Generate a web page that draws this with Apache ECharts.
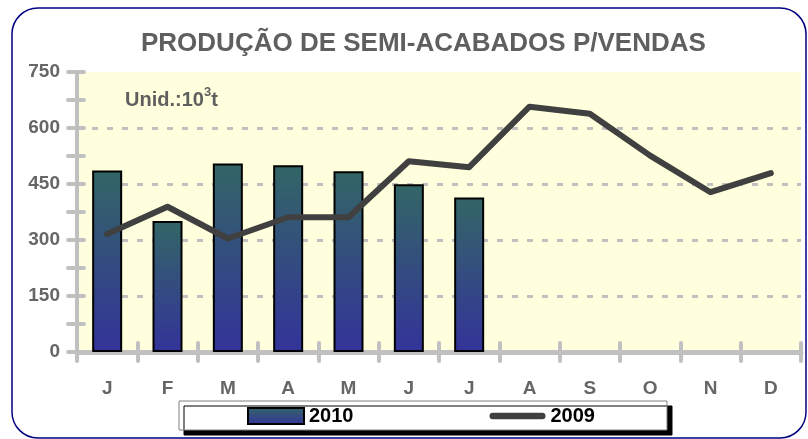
<!DOCTYPE html>
<html>
<head>
<meta charset="utf-8">
<script src="https://cdn.jsdelivr.net/npm/echarts@6/dist/echarts.min.js"></script>
<style>html,body{margin:0;padding:0;background:#fff}#c{width:808px;height:439px}</style>
</head>
<body>
<div id="c"></div>
<script>
const months = ['J','F','M','A','M','J','J','A','S','O','N','D'];
const values2010 = [486, 351, 505, 500, 484, 449, 414];
const values2009 = [316, 389, 304, 361, 361, 511, 495, 657, 638, 526, 428, 479];
const titleText = 'PRODUÇÃO DE SEMI-ACABADOS P/VENDAS';
const seriesNames = ['2010', '2009'];

const FONT = "'Liberation Sans', Arial, sans-serif";
const AX = '#c0c0c0';
const chart = echarts.init(document.getElementById('c'), null, {renderer: 'canvas'});

const tickStyle = {color: AX, width: 4, cap: 'round'};
const lineIcon = 'path://M3.5,0 H55.5 A3.5,3.5 0 0 1 55.5,7 H3.5 A3.5,3.5 0 0 1 3.5,0 Z';

chart.setOption({
  animation: false,
  title: [{
    text: titleText,
    left: 141, top: 31, padding: 0,
    textStyle: {fontFamily: FONT, fontSize: 26, fontWeight: 'bold', color: '#5f5f5f'}
  }, {
    text: '{a|Unid.:10}{s|3}{a|t}',
    left: 125, top: 86, padding: 0,
    textStyle: {
      rich: {
        a: {fontFamily: FONT, fontSize: 20, fontWeight: 'bold', color: '#5f5f5f', lineHeight: 24, verticalAlign: 'bottom'},
        s: {fontFamily: FONT, fontSize: 13, fontWeight: 'bold', color: '#5f5f5f', lineHeight: 14, verticalAlign: 'top'}
      }
    }
  }],
  graphic: [{
    type: 'rect', z: -10, silent: true,
    shape: {x: 12, y: 8, width: 794, height: 430, r: 26},
    style: {fill: 'none', stroke: '#000080', lineWidth: 1.5}
  }],
  legend: {
    left: 179, top: 401,
    data: [{name: '2010', icon: 'rect'}, {name: '2009', icon: lineIcon}],
    backgroundColor: '#ffffff',
    borderColor: '#808080', borderWidth: 1,
    shadowColor: '#000000', shadowOffsetX: 5, shadowOffsetY: 5, shadowBlur: 0,
    padding: [5, 72, 4, 68],
    itemGap: 136, itemWidth: 56, itemHeight: 16,
    textStyle: {fontFamily: FONT, fontSize: 20, fontWeight: 'bold', color: '#000'}
  },
  grid: {left: 77, right: 7, top: 72, bottom: 87, show: true, backgroundColor: '#FFFFDD', borderWidth: 0, containLabel: false},
  xAxis: [{
    type: 'category', data: months, position: 'bottom',
    axisLine: {show: true, lineStyle: {color: AX, width: 5}},
    axisTick: {show: true, length: 9, interval: 0, lineStyle: tickStyle},
    axisLabel: {margin: 27, interval: 0, fontFamily: FONT, fontSize: 19, fontWeight: 'bold', color: '#666666'},
    splitLine: {show: false}
  }, {
    type: 'category', data: months, position: 'bottom',
    axisLine: {show: false},
    axisTick: {show: true, inside: true, length: 9, interval: 0, lineStyle: tickStyle},
    axisLabel: {show: false},
    splitLine: {show: false}
  }],
  yAxis: [{
    type: 'value', min: 0, max: 750, interval: 150, position: 'left',
    axisLine: {show: true, lineStyle: {color: AX, width: 4}},
    axisTick: {show: true, length: 9, lineStyle: tickStyle},
    minorTick: {show: true, splitNumber: 2, length: 9, lineStyle: tickStyle},
    axisLabel: {margin: 17, fontFamily: FONT, fontSize: 19, fontWeight: 'bold', color: '#666666'},
    splitLine: {show: true, showMinLine: false, showMaxLine: false, lineStyle: {color: AX, width: 3, type: [6, 9]}}
  }, {
    type: 'value', min: 0, max: 750, interval: 150, position: 'left',
    axisLine: {show: false},
    axisTick: {show: true, inside: true, length: 7, lineStyle: tickStyle},
    minorTick: {show: true, splitNumber: 2, length: 7, lineStyle: tickStyle},
    axisLabel: {show: false},
    splitLine: {show: false}
  }],
  series: [{
    name: '2010', type: 'bar', data: values2010, barWidth: 30, z: 2,
    itemStyle: {
      color: new echarts.graphic.LinearGradient(0, 0, 0, 1, [
        {offset: 0, color: '#336666'},
        {offset: 1, color: '#333399'}
      ]),
      borderColor: '#000', borderWidth: 2
    }
  }, {
    name: '2009', type: 'line', data: values2009, z: 3,
    symbol: 'none', showSymbol: false,
    lineStyle: {color: '#404040', width: 6, cap: 'round', join: 'round'},
    itemStyle: {color: '#404040'}
  }]
});
</script>
</body>
</html>
